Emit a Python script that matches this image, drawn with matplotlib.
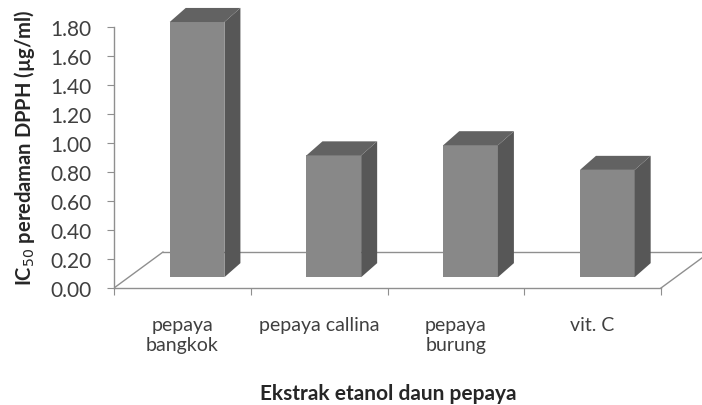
import numpy as np
import matplotlib.pyplot as plt
from matplotlib.patches import Polygon

plt.rcParams['font.family'] = ['Lato', 'DejaVu Sans']

# data
kategori = ['pepaya\nbangkok', 'pepaya callina', 'pepaya\nburung', 'vit. C']
ic50 = [1.76, 0.84, 0.91, 0.74]
yticks = [0.0, 0.2, 0.4, 0.6, 0.8, 1.0, 1.2, 1.4, 1.6, 1.8]

# 3d look (in data units)
floor_dx, floor_dy = 0.358, 0.248
front = 0.30          # depth of bar front face as fraction of floor
bar_dx, bar_dy = 0.117, 0.097
lebar = 0.40
c_front = '#888888'
c_side = '#575757'
c_top = '#626262'
c_line = '#8f8f8f'

fig = plt.figure(figsize=(7.02, 4.06), dpi=100)
ax = fig.add_axes([114/702, 117/406, 588/702, 1.98*145/406])
ax.set_xlim(0, 588/136.75)
ax.set_ylim(0, 1.98)

n = len(kategori)
# floor (parallelogram)
ax.plot([0, floor_dx], [0, floor_dy], color=c_line, lw=1)
ax.plot([n, n + floor_dx], [0, floor_dy], color=c_line, lw=1)
ax.plot([floor_dx, n + floor_dx], [floor_dy, floor_dy], color=c_line, lw=1)

x = np.arange(n) + 0.5 + front * floor_dx
base = front * floor_dy
ax.bar(x, ic50, width=lebar, bottom=base, color=c_front, zorder=3)
for xi, v in zip(x, ic50):
    xl, xr = xi - lebar / 2, xi + lebar / 2
    top = base + v
    side = [(xr, base), (xr + bar_dx, base + bar_dy), (xr + bar_dx, top + bar_dy), (xr, top)]
    atas = [(xl, top), (xr, top), (xr + bar_dx, top + bar_dy), (xl + bar_dx, top + bar_dy)]
    ax.add_patch(Polygon(side, closed=True, facecolor=c_side, edgecolor='none', zorder=3))
    ax.add_patch(Polygon(atas, closed=True, facecolor=c_top, edgecolor='none', zorder=3))

for s in ['top', 'right']:
    ax.spines[s].set_visible(False)
ax.spines['left'].set_bounds(0, 1.8)
ax.spines['bottom'].set_bounds(0, n)
for s in ['left', 'bottom']:
    ax.spines[s].set_color(c_line)
    ax.spines[s].set_linewidth(1)

ax.set_yticks(yticks, ['{:.2f}'.format(t) for t in yticks])
ax.set_xticks(np.arange(n + 1), [''] * (n + 1))
ax.set_xticks(np.arange(n) + 0.5, kategori, minor=True)
ax.tick_params(axis='y', length=5, color=c_line, pad=11, labelsize=15, labelcolor='#404040')
ax.tick_params(axis='x', which='major', length=5, color=c_line)
ax.tick_params(axis='x', which='minor', length=0, pad=20, labelsize=14, labelcolor='#404040')
for lbl in ax.get_xticklabels(minor=True):
    lbl.set_linespacing(1.25)

fig.text(25/702, 1 - 148/406, r'IC$_{50}$ peredaman DPPH (µg/ml)', rotation=90,
         ha='center', va='center', fontsize=14.5, fontweight='bold', color='#262626')
fig.text(388/702, 1 - 394/406, 'Ekstrak etanol daun pepaya', ha='center', va='center',
         fontsize=15, fontweight='bold', color='#262626')

fig.savefig('out.png', dpi=100)
